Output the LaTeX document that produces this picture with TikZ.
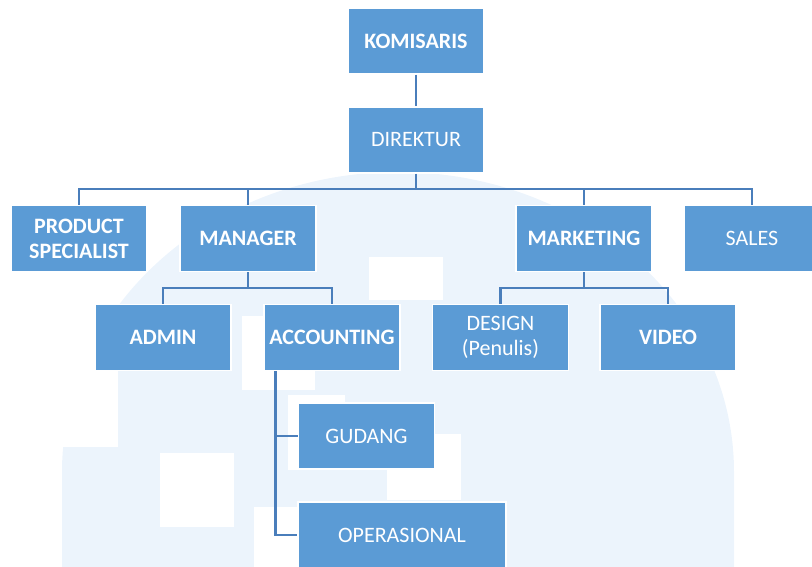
\documentclass[tikz,border=0pt]{standalone}
\usepackage{fontspec}
\setmainfont{Carlito}
\definecolor{boxblue}{HTML}{5B9BD5}
\definecolor{linkblue}{HTML}{4A7EBB}
\definecolor{wmark}{RGB}{236,244,252}
\begin{document}
\begin{tikzpicture}[x=1pt,y=-1pt,
  orgbox/.style={rectangle,fill=boxblue,draw=white,line width=1.2pt,
    minimum width=136pt,minimum height=66pt,inner sep=0pt,
    text=white,align=center,font=\fontsize{22}{25}\selectfont},
  bbox/.style={orgbox,font=\fontsize{22}{25}\selectfont\bfseries},
  conn/.style={draw=linkblue,line width=2.6pt}]
\useasboundingbox (0,0) rectangle (812,567);
% watermark
\begin{scope}
\clip (0,0) rectangle (812,567);
\fill[wmark] (62,567) -- (62,472) arc[start angle=180,end angle=0,x radius=336,y radius=-300] -- (734,567) -- cycle;
\fill[white] (0,340) rectangle (118,447);
\fill[white] (160,453) rectangle (234,527);
\fill[white] (369,257) rectangle (443,300);
\fill[white] (242,316) rectangle (315,390);
\fill[white] (288,395) rectangle (345,470);
\fill[white] (387,434) rectangle (461,500);
\fill[white] (254,507) rectangle (300,567);
\end{scope}
% nodes
\node[bbox] (kom) at (416,41) {KOMISARIS};
\node[orgbox] (dir) at (416,140) {DIREKTUR};
\node[bbox] (ps) at (79,238.5) {PRODUCT\\SPECIALIST};
\node[bbox] (man) at (248,238.5) {MANAGER};
\node[bbox] (mkt) at (584,238.5) {MARKETING};
\node[orgbox] (sal) at (752,238.5) {SALES};
\node[bbox] (adm) at (163,337.5) {ADMIN};
\node[bbox] (acc) at (332,337.5) {ACCOUNTING};
\node[orgbox] (des) at (500.5,337.5) {DESIGN\\(Penulis)};
\node[bbox] (vid) at (668,337.5) {VIDEO};
\node[orgbox] (gud) at (366.5,436) {GUDANG};
\node[orgbox,minimum width=208pt] (ops) at (402,535) {OPERASIONAL};
% connectors
\coordinate (bus) at (416,189);
\coordinate (mbus) at (248,288);
\coordinate (kbus) at (584,288);
\draw[conn] (kom.south) -- (dir.north);
\draw[conn] (dir.south) -- (bus);
\draw[conn] (ps.north) |- (bus) -| (sal.north);
\draw[conn] (man.north) -- (man.north |- bus);
\draw[conn] (mkt.north) -- (mkt.north |- bus);
\draw[conn] (man.south) -- (mbus);
\draw[conn] (adm.north) |- (mbus) -| (acc.north);
\draw[conn] (mkt.south) -- (kbus);
\draw[conn] (des.north) |- (kbus) -| (vid.north);
\draw[conn] ([xshift=12pt]acc.south west) |- (gud.west);
\draw[conn] ([xshift=12pt]acc.south west) |- (ops.west);
\end{tikzpicture}
\end{document}
